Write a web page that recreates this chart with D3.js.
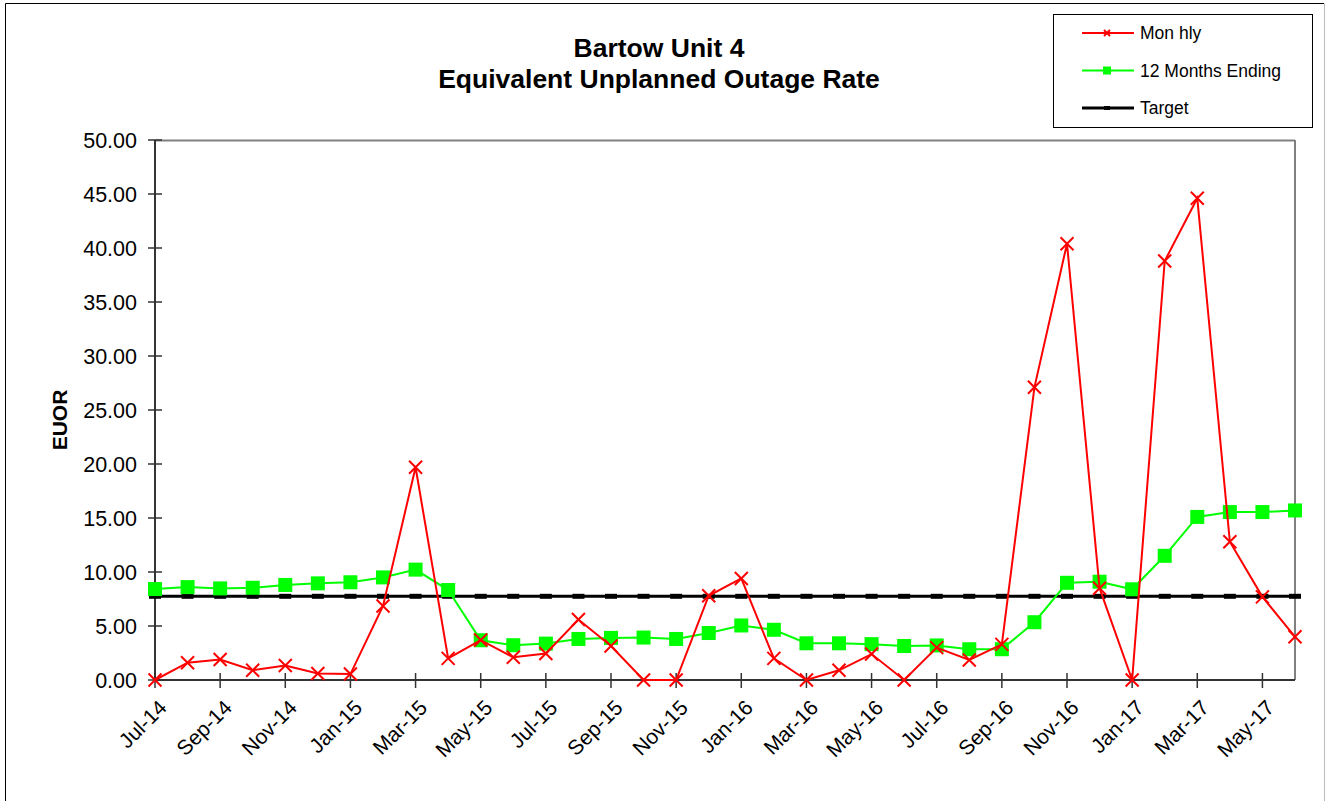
<!DOCTYPE html>
<html>
<head>
<meta charset="utf-8">
<script src="https://cdn.jsdelivr.net/npm/d3@7"></script>
<style>
  body { margin: 0; background: #fff; }
  text { font-family: "Liberation Sans", Arial, sans-serif; }
</style>
</head>
<body>
<script>
var months = ["Jul-14","Aug-14","Sep-14","Oct-14","Nov-14","Dec-14","Jan-15","Feb-15","Mar-15","Apr-15","May-15","Jun-15",
  "Jul-15","Aug-15","Sep-15","Oct-15","Nov-15","Dec-15","Jan-16","Feb-16","Mar-16","Apr-16","May-16","Jun-16",
  "Jul-16","Aug-16","Sep-16","Oct-16","Nov-16","Dec-16","Jan-17","Feb-17","Mar-17","Apr-17","May-17","Jun-17"];

var monthly = [0.0, 1.6, 1.9, 0.9, 1.35, 0.6, 0.55, 6.85, 19.7, 2.0, 3.7, 2.1,
  2.45, 5.6, 3.15, 0.0, 0.0, 7.8, 9.4, 2.0, 0.0, 0.9, 2.4, 0.0,
  3.0, 1.85, 3.3, 27.1, 40.4, 8.5, 0.0, 38.8, 44.6, 12.8, 7.7, 4.0];

var twelveMonths = [8.42, 8.6, 8.48, 8.54, 8.8, 8.95, 9.05, 9.5, 10.22, 8.33, 3.68, 3.22,
  3.37, 3.8, 3.9, 3.93, 3.8, 4.35, 5.05, 4.65, 3.4, 3.4, 3.32, 3.15,
  3.2, 2.85, 2.85, 5.35, 9.0, 9.1, 8.4, 11.5, 15.1, 15.55, 15.55, 15.7];

var target = months.map(function(){ return 7.75; });

var yTicks = [0,5,10,15,20,25,30,35,40,45,50];
var xLabels = months.filter(function(d, i){ return i % 2 == 0; });

var W = 1327, H = 801;
var plotLeft = 155, plotRight = 1295, plotTop = 140, plotBottom = 680;

var svg = d3.select("body").append("svg").attr("width", W).attr("height", H);

// outer frame
svg.append("line").attr("x1",5.5).attr("x2",5.5).attr("y1",3.5).attr("y2",H).attr("stroke","#000");
svg.append("line").attr("x1",5.5).attr("x2",1324).attr("y1",3.5).attr("y2",3.5).attr("stroke","#000");
svg.append("line").attr("x1",1324.5).attr("x2",1324.5).attr("y1",3.5).attr("y2",H).attr("stroke","#bbb");

var x = d3.scalePoint().domain(months).range([plotLeft, plotRight]);
var y = d3.scaleLinear().domain([0, 50]).range([plotBottom, plotTop]);

// plot frame (top/right grey)
svg.append("line").attr("x1",plotLeft).attr("x2",plotRight).attr("y1",plotTop+0.5).attr("y2",plotTop+0.5).attr("stroke","#808080").attr("stroke-width",2);
svg.append("line").attr("x1",plotRight).attr("x2",plotRight).attr("y1",plotTop).attr("y2",plotBottom).attr("stroke","#808080").attr("stroke-width",2);

// y axis
svg.append("line").attr("x1",plotLeft).attr("x2",plotLeft).attr("y1",plotTop).attr("y2",plotBottom).attr("stroke","#333").attr("stroke-width",2);
svg.selectAll(".ytick").data(yTicks).enter().append("line")
  .attr("x1", plotLeft-7).attr("x2", plotLeft+7)
  .attr("y1", function(d){ return y(d); }).attr("y2", function(d){ return y(d); })
  .attr("stroke","#333").attr("stroke-width",1.5);
svg.selectAll(".ylab").data(yTicks).enter().append("text")
  .attr("x", plotLeft-18).attr("y", function(d){ return y(d); }).attr("dy","0.35em")
  .attr("text-anchor","end").attr("font-size",21.5).text(function(d){ return d3.format(".2f")(d); });

// x axis
svg.append("line").attr("x1",plotLeft).attr("x2",plotRight).attr("y1",plotBottom).attr("y2",plotBottom).attr("stroke","#333").attr("stroke-width",2);
svg.selectAll(".xtick").data(xLabels).enter().append("line")
  .attr("x1", function(d){ return x(d); }).attr("x2", function(d){ return x(d); })
  .attr("y1", plotBottom-7).attr("y2", plotBottom+8)
  .attr("stroke","#333").attr("stroke-width",1.5);
svg.selectAll(".xlab").data(xLabels).enter().append("text")
  .attr("transform", function(d){ return "translate(" + (x(d)+13) + "," + (plotBottom+29) + ") rotate(-45)"; })
  .attr("text-anchor","end").attr("font-size",21).text(function(d){ return d; });

// axis title
svg.append("text").attr("transform","translate(67,420) rotate(-90)")
  .attr("text-anchor","middle").attr("font-size",21).attr("font-weight","bold").text("EUOR");

// title
svg.append("text").attr("x",659).attr("y",57).attr("text-anchor","middle")
  .attr("font-size",26.5).attr("font-weight","bold").text("Bartow Unit 4");
svg.append("text").attr("x",659).attr("y",88).attr("text-anchor","middle")
  .attr("font-size",26.5).attr("font-weight","bold").text("Equivalent Unplanned Outage Rate");

var line = d3.line().x(function(d, i){ return x(months[i]); }).y(function(d){ return y(d); });

// target
svg.append("path").datum(target).attr("d", line).attr("fill","none").attr("stroke","#000").attr("stroke-width",3);
svg.selectAll(".tmark").data(target).enter().append("rect")
  .attr("x", function(d, i){ return x(months[i]) - 6; }).attr("y", function(d){ return y(d) - 2.5; })
  .attr("width",12).attr("height",5).attr("fill","#000");

// 12 months
svg.append("path").datum(twelveMonths).attr("d", line).attr("fill","none").attr("stroke","#00ff00").attr("stroke-width",2);
svg.selectAll(".gmark").data(twelveMonths).enter().append("rect")
  .attr("x", function(d, i){ return x(months[i]) - 7; }).attr("y", function(d){ return y(d) - 7; })
  .attr("width",14).attr("height",14).attr("fill","#00ff00");

// monthly
svg.append("path").datum(monthly).attr("d", line).attr("fill","none").attr("stroke","#ff0000").attr("stroke-width",2);
var s = 6.5;
svg.selectAll(".rmark").data(monthly).enter().append("path")
  .attr("d", function(d, i){
    var cx = x(months[i]), cy = y(d);
    return "M"+(cx-s)+","+(cy-s)+"L"+(cx+s)+","+(cy+s)+"M"+(cx-s)+","+(cy+s)+"L"+(cx+s)+","+(cy-s);
  })
  .attr("stroke","#ff0000").attr("stroke-width",2).attr("fill","none");

// legend
var lg = svg.append("g");
lg.append("rect").attr("x",1053.5).attr("y",14.5).attr("width",259).attr("height",113)
  .attr("fill","#fff").attr("stroke","#000");
var legendItems = [
  { name: "Mon hly", color: "#ff0000", mark: "x" },
  { name: "12 Months Ending", color: "#00ff00", mark: "sq" },
  { name: "Target", color: "#000", mark: "dash" }
];
legendItems.forEach(function(it, i){
  var ly = 33 + i * 37.5;
  lg.append("line").attr("x1",1082).attr("x2",1134).attr("y1",ly).attr("y2",ly)
    .attr("stroke", it.color).attr("stroke-width", it.mark == "dash" ? 3 : 2);
  if (it.mark == "x") {
    lg.append("path").attr("d","M1104,"+(ly-3)+"L1110,"+(ly+3)+"M1104,"+(ly+3)+"L1110,"+(ly-3))
      .attr("stroke",it.color).attr("stroke-width",2);
  } else if (it.mark == "sq") {
    lg.append("rect").attr("x",1103).attr("y",ly-4).attr("width",8).attr("height",8).attr("fill",it.color);
  } else {
    lg.append("rect").attr("x",1104).attr("y",ly-2).attr("width",6).attr("height",4).attr("fill","#000");
  }
  lg.append("text").attr("x",1140).attr("y",ly).attr("dy","0.35em").attr("font-size",17.5).text(it.name);
});
</script>
</body>
</html>
